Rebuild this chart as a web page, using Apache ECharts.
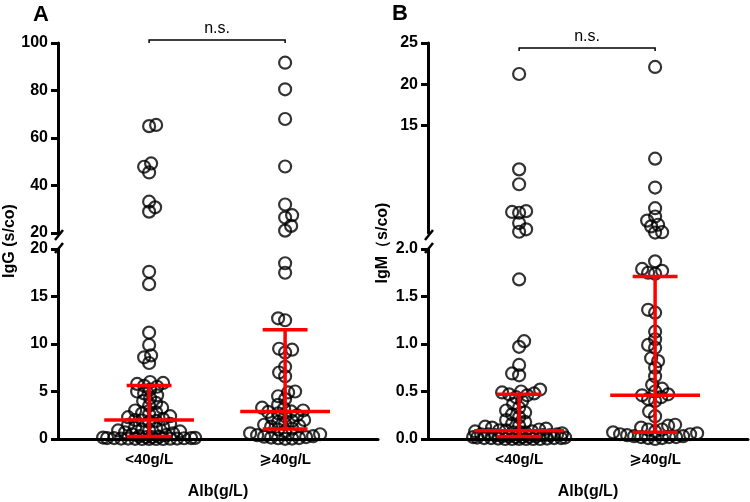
<!DOCTYPE html>
<html><head><meta charset="utf-8">
<script src="https://cdn.jsdelivr.net/npm/echarts@6/dist/echarts.min.js"></script>
<style>html,body{margin:0;padding:0;background:#fff}#c{width:750px;height:502px}</style>
</head><body><div id="c"></div>
<script>
const categories = ['<40g/L', '⩾40g/L'];

// IgG (s/co) values per group
const iggGroup1 = [65.5, 65, 49.3, 47.9, 45.5, 33.2, 30.8, 29, 17.6, 16.3, 11.2, 9.9, 8.8, 8.6, 8.0, 6.0, 5.9, 5.8,
  5.6, 5.5, 5.2, 5.0, 4.8, 4.6, 4.3, 4.0, 3.8, 3.5, 3.3, 3.0, 2.8, 2.7, 2.6, 2.4, 2.3, 2.1,
  2.0, 1.95, 1.9, 1.8, 1.6, 1.5, 1.3, 1.2, 1.1, 1.0, 0.9, 0.9, 0.8, 0.7, 0.6, 0.5, 0.4, 0.3,
  0.25, 0.2, 0.2, 0.15, 0.12, 0.1, 0.1, 0.1, 0.08, 0.05, 0.05, 0.05, 0.03, 0.02, 0, 0, 0, 0];
const iggGroup2 = [91.7, 80.5, 68, 48, 32, 27.5, 26.5, 23, 21, 18.5, 17.5, 12.7, 12.5,
  9.5, 9.4, 9.1, 7.6, 7.0, 6.6, 5.0, 4.9, 4.5, 4.2, 3.6, 3.3, 3.2, 3.0, 2.9, 2.85,
  2.7, 2.5, 2.4, 2.2, 2.0, 1.9, 1.8, 1.6, 1.5, 1.4, 1.3, 1.1,
  1.0, 0.8, 0.6, 0.5, 0.4, 0.3, 0.25, 0.2, 0.15, 0.1, 0.08, 0.05, 0.02];
// IgM (s/co) values per group
const igmGroup1 = [21.25, 9.7, 7.9, 4.65, 4.55, 4.45, 3.2, 2.45, 2.15, 1.68, 1.03, 0.97, 0.78, 0.69, 0.67, 0.52, 0.50, 0.49, 0.48,
  0.47, 0.46, 0.44, 0.40, 0.37, 0.33, 0.30, 0.28, 0.26, 0.23, 0.20, 0.18, 0.16, 0.14, 0.13, 0.12, 0.11, 0.10,
  0.09, 0.09, 0.08, 0.08, 0.07, 0.07, 0.06, 0.06, 0.05, 0.05, 0.05, 0.04, 0.04, 0.04, 0.03, 0.03, 0.03,
  0.025, 0.02, 0.02, 0.02, 0.015, 0.015, 0.01, 0.01, 0.01, 0.01, 0.005, 0.005, 0, 0, 0, 0, 0, 0];
const igmGroup2 = [22.1, 11.0, 7.5, 5.0, 4.0, 3.5, 3.0, 2.8, 2.1, 2.05,
  1.87, 1.79, 1.77, 1.75, 1.74, 1.36, 1.33, 1.13, 1.05, 0.99, 0.96, 0.85, 0.82, 0.75, 0.66,
  0.57, 0.53, 0.50, 0.47, 0.46, 0.44, 0.42, 0.40, 0.29, 0.24,
  0.15, 0.14, 0.12, 0.1, 0.1, 0.08, 0.07, 0.06, 0.05, 0.05, 0.04, 0.03, 0.03, 0.02, 0.02, 0.02, 0.01, 0.01, 0.0];

// median and interquartile range
const iggMedian = [2.0, 2.9], iggQ1 = [0.27, 1.05], iggQ3 = [5.64, 11.5];
const igmMedian = [0.087, 0.46], igmQ1 = [0.027, 0.07], igmQ3 = [0.47, 1.71];

// tick labels
const iggUpperTicks = [20, 40, 60, 80, 100];
const iggLowerTicks = [0, 5, 10, 15, 20];
const igmUpperTicks = [15, 20, 25];
const igmLowerTicks = [0, 0.5, 1.0, 1.5, 2.0];
const iggBreak = 20, igmBreak = 2;

const FONT = '"Liberation Sans", Arial, "DejaVu Sans", sans-serif';
const chart = echarts.init(document.getElementById('c'));
const X_MIN = 0.33, X_MAX = 2.683;

const grids = [
  {left: 58, top: 43, width: 320, height: 190},
  {left: 58, top: 249, width: 320, height: 190},
  {left: 428, top: 43, width: 320, height: 190},
  {left: 428, top: 249, width: 320, height: 190}
];

function xAxisCfg(gi, show) {
  const a = {type: 'value', gridIndex: gi, min: X_MIN, max: X_MAX, splitLine: {show: false}};
  if (!show) { a.show = false; return a; }
  return Object.assign(a, {
    axisLine: {show: true, onZero: false, lineStyle: {color: '#000', width: 3}},
    axisTick: {show: false},
    axisLabel: {customValues: [1, 2], formatter: v => categories[Math.round(v) - 1], margin: 13,
      color: '#000', fontWeight: 'bold', fontSize: 15, fontFamily: FONT},
    name: 'Alb(g/L)', nameLocation: 'middle', nameGap: 45,
    nameTextStyle: {color: '#000', fontWeight: 'bold', fontSize: 16, fontFamily: FONT}
  });
}
function yAxisCfg(gi, min, max, ticks, fmt) {
  return {type: 'value', gridIndex: gi, min, max, splitLine: {show: false},
    axisLine: {show: true, lineStyle: {color: '#000', width: 3}},
    axisTick: {show: true, customValues: ticks, length: 7, lineStyle: {color: '#000', width: 3}},
    axisLabel: {customValues: ticks, margin: 10, color: '#000', fontWeight: 'bold', fontSize: 16,
      fontFamily: FONT, formatter: fmt || (v => String(v))}
  };
}
function scatterS(i, data) {
  return {type: 'scatter', xAxisIndex: i, yAxisIndex: i, symbol: 'circle', symbolSize: 12, silent: true,
    itemStyle: {color: 'rgba(255,255,255,0)', borderColor: '#000', borderWidth: 2.2}, data, z: 2};
}
function barS(i, med, q1, q3) {
  return {type: 'custom', xAxisIndex: i, yAxisIndex: i, z: 5, silent: true, clip: false,
    data: med.map((m, k) => [k + 1, m, q1[k], q3[k]]),
    renderItem(params, api) {
      const x = api.value(0), m = api.value(1), lo = api.value(2), hi = api.value(3);
      const st = {stroke: '#ff0000', lineWidth: 3.5};
      const ln = (a, b) => ({type: 'line', shape: {x1: a[0], y1: a[1], x2: b[0], y2: b[1]}, style: st});
      const p = (a, b) => api.coord([a, b]);
      return {type: 'group', children: [
        ln(p(x, lo), p(x, hi)),
        ln(p(x - 0.33, m), p(x + 0.33, m)),
        ln(p(x - 0.165, lo), p(x + 0.165, lo)),
        ln(p(x - 0.165, hi), p(x + 0.165, hi))
      ]};
    }};
}

const fmt1 = v => v.toFixed(1);
const baseOption = {
  animation: false,
  backgroundColor: '#fff',
  grid: grids,
  xAxis: [xAxisCfg(0, false), xAxisCfg(1, true), xAxisCfg(2, false), xAxisCfg(3, true)],
  yAxis: [
    yAxisCfg(0, 20, 100, iggUpperTicks),
    yAxisCfg(1, 0, 20, iggLowerTicks),
    yAxisCfg(2, 2, 25, igmUpperTicks),
    yAxisCfg(3, 0, 2, igmLowerTicks, fmt1)
  ],
  series: [scatterS(0, []), scatterS(1, []), scatterS(2, []), scatterS(3, [])]
};
chart.setOption(baseOption);

function swarm(values, gi, center) {
  const c = chart.convertToPixel({gridIndex: gi}, [center, 0])[0];
  const items = values.map(v => ({v, py: chart.convertToPixel({gridIndex: gi}, [center, v])[1]}));
  items.sort((a, b) => b.py - a.py);
  const D = 7, MAXW = 46, placed = [];
  items.forEach((it, idx) => {
    let chosen = null, best = -1, bestDx = 0;
    for (let k = 0; k <= MAXW && chosen === null; k++) {
      const cands = k === 0 ? [0] : (idx % 2 ? [k, -k] : [-k, k]);
      for (const dx of cands) {
        let md = Infinity;
        for (const p of placed) {
          const d = Math.hypot(p.dx - dx, p.py - it.py);
          if (d < md) md = d;
        }
        if (md >= D) { chosen = dx; break; }
        if (md > best) { best = md; bestDx = dx; }
      }
    }
    const dx = chosen !== null ? chosen : bestDx;
    placed.push({dx, py: it.py});
    it.x = chart.convertFromPixel({gridIndex: gi}, [c + dx, it.py])[0];
  });
  return items.map(it => [it.x, it.v]);
}

function panelData(g1, g2, brk, upperGi, lowerGi) {
  const up = [], low = [];
  [g1, g2].forEach((g, k) => {
    up.push(...swarm(g.filter(v => v > brk), upperGi, k + 1));
    low.push(...swarm(g.filter(v => v <= brk), lowerGi, k + 1));
  });
  return [up, low];
}
const [aUp, aLow] = panelData(iggGroup1, iggGroup2, iggBreak, 0, 1);
const [bUp, bLow] = panelData(igmGroup1, igmGroup2, igmBreak, 2, 3);

const px = (gi, x, y) => chart.convertToPixel({gridIndex: gi}, [x, y]);
const a1 = px(0, 1, 100)[0], a2 = px(0, 2, 100)[0];
const b1 = px(2, 1, 25)[0], b2 = px(2, 2, 25)[0];

function slash(x, y) {
  return {type: 'line', shape: {x1: x - 4, y1: y + 5, x2: x + 4, y2: y - 5},
    style: {stroke: '#000', lineWidth: 2.5}, z: 10};
}
function bracket(x1, x2, y) {
  return {type: 'polyline', shape: {points: [[x1, y + 3], [x1, y], [x2, y], [x2, y + 3]]},
    style: {stroke: '#000', lineWidth: 1.5, fill: null}, z: 10};
}
function txt(x, y, s, size, weight, rot) {
  return {type: 'text', x, y, rotation: rot || 0, z: 10,
    style: {text: s, fill: '#000', font: `${weight} ${size}px ${FONT}`, textAlign: 'center', textVerticalAlign: 'middle'}};
}

chart.setOption({
  series: [
    scatterS(0, aUp), scatterS(1, aLow), scatterS(2, bUp), scatterS(3, bLow),
    barS(1, iggMedian, iggQ1, iggQ3), barS(3, igmMedian, igmQ1, igmQ3)
  ],
  graphic: [
    txt(41, 15, 'A', 22, 'bold'),
    txt(400, 14, 'B', 22, 'bold'),
    txt(10, 241, 'IgG (s/co)', 16, 'bold', Math.PI / 2),
    txt(383, 243, 'IgM（s/co)', 16, 'bold', Math.PI / 2),
    bracket(a1, a2, 40), txt((a1 + a2) / 2, 29, 'n.s.', 16, 'normal'),
    bracket(b1, b2, 48), txt((b1 + b2) / 2, 37, 'n.s.', 16, 'normal'),
    slash(59, 235), slash(59, 248), slash(429, 235), slash(429, 248)
  ]
});
</script></body></html>
